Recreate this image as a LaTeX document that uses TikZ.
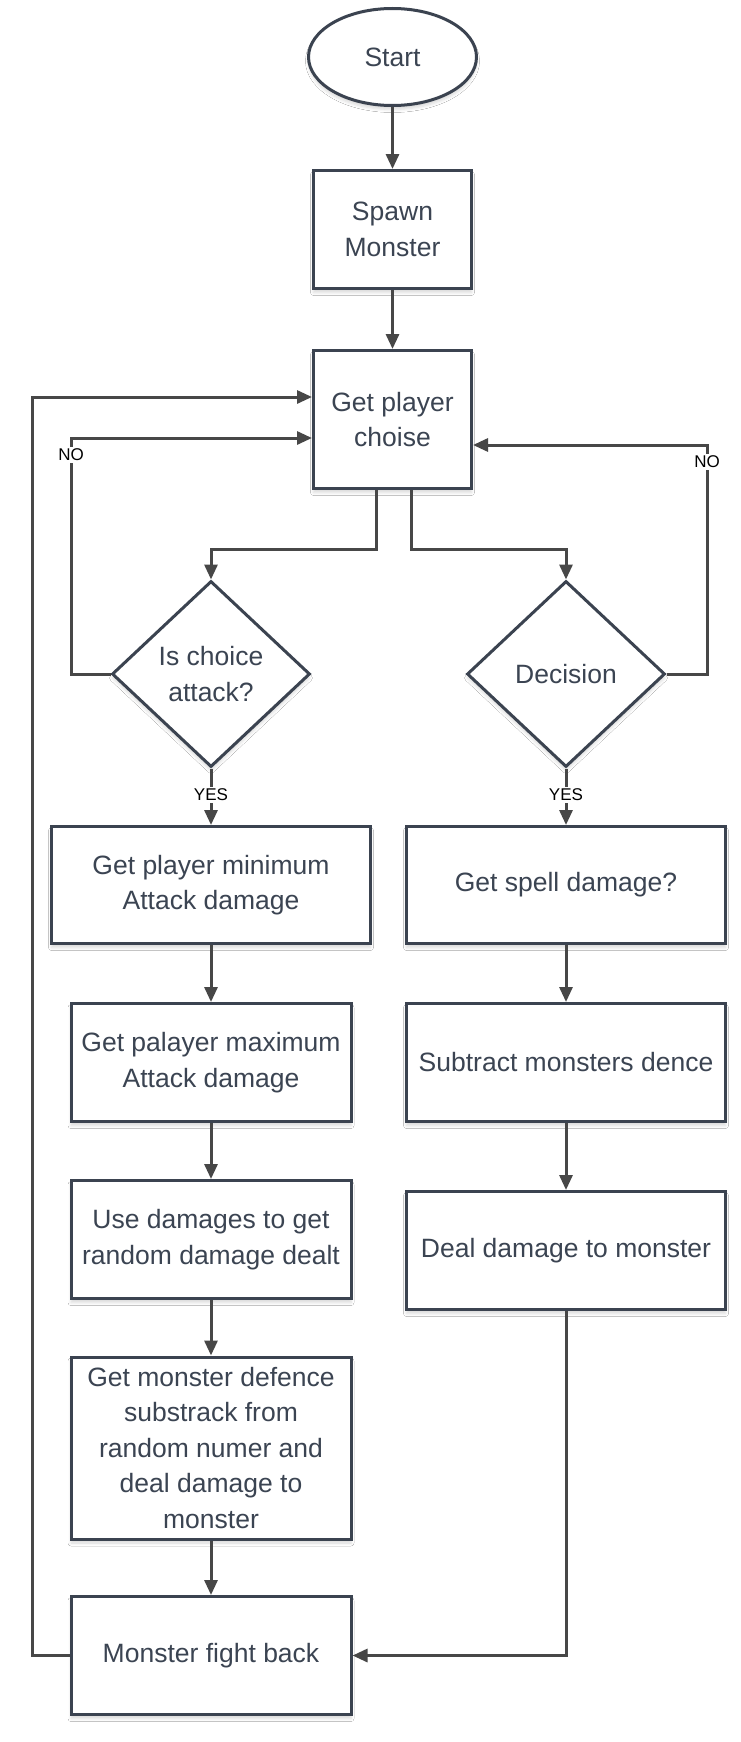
\documentclass[tikz,border=0pt]{standalone}
\usepackage{fontspec}
\setmainfont{Liberation Sans}
\usetikzlibrary{shapes.geometric,arrows.meta,shadows.blur}
\definecolor{boxline}{HTML}{3B4350}
\definecolor{txt}{HTML}{3B4452}
\definecolor{conn}{HTML}{474747}
\tikzset{
  x=1pt,y=-1pt,
  shad/.style={blur shadow={shadow xshift=0pt,shadow yshift=-4pt,shadow blur radius=3pt,shadow opacity=15}},
  procbox/.style={draw=boxline,line width=3pt,fill=white,rectangle,inner sep=0pt,align=center,text=txt,
    font=\fontsize{26.5}{35.5}\selectfont,shad},
  decbox/.style={draw=boxline,line width=3pt,fill=white,diamond,inner sep=0pt,align=center,text=txt,
    font=\fontsize{26.5}{35.5}\selectfont,shad},
  termbox/.style={draw=boxline,line width=3pt,fill=white,ellipse,inner sep=0pt,align=center,text=txt,
    font=\fontsize{26.5}{35.5}\selectfont,shad},
  arr/.style={draw=conn,line width=3pt,-{Triangle[length=15pt,width=13pt]}},
  lbl/.style={fill=white,text=black,inner sep=2pt,font=\fontsize{17}{19}\selectfont},
}
\begin{document}
\begin{tikzpicture}
\fill[white] (0,0) rectangle (740,1742);
\useasboundingbox (0,0) rectangle (740,1742);

\node[termbox,minimum width=168pt,minimum height=97pt] (start) at (392.5,57) {Start};
\node[procbox,minimum width=158pt,minimum height=118pt] (spawn) at (392.5,229.5) {Spawn\\Monster};
\node[procbox,minimum width=158pt,minimum height=138pt] (choise) at (392.5,419.5) {Get player\\choise};
\node[decbox,minimum width=198pt,minimum height=186pt] (d1) at (211,674) {Is choice\\attack?};
\node[decbox,minimum width=198pt,minimum height=186pt] (d2) at (566,674) {Decision};
\node[procbox,minimum width=319pt,minimum height=117pt] (min) at (211,885) {Get player minimum\\Attack damage};
\node[procbox,minimum width=319pt,minimum height=117pt] (spell) at (566,885) {Get spell damage?};
\node[procbox,minimum width=280pt,minimum height=118pt] (max) at (211,1062.5) {Get palayer maximum\\Attack damage};
\node[procbox,minimum width=319pt,minimum height=118pt] (sub) at (566,1062.5) {Subtract monsters dence};
\node[procbox,minimum width=280pt,minimum height=118pt] (use) at (211,1239.5) {Use damages to get\\random damage dealt};
\node[procbox,minimum width=319pt,minimum height=118pt] (deal) at (566,1250.5) {Deal damage to monster};
\node[procbox,minimum width=280pt,minimum height=182pt] (def) at (211,1448) {Get monster defence\\substrack from\\random numer and\\deal damage to\\monster};
\node[procbox,minimum width=280pt,minimum height=118pt] (fight) at (211,1655.5) {Monster fight back};

\coordinate (jl) at (376,549);
\coordinate (jr) at (411,549);
\coordinate (ll) at (71,438);
\coordinate (rl) at (707,445);
\coordinate (ol) at (32,397);

\draw[arr] (start) -- (spawn);
\draw[arr] (spawn) -- (choise);
\draw[arr] (jl |- choise.south) -- (jl) -| (d1.north);
\draw[arr] (jr |- choise.south) -- (jr) -| (d2.north);
\draw[arr] (d1.west) -| (ll) -- (ll -| choise.west);
\draw[arr] (d2.east) -| (rl) -- (rl -| choise.east);
\draw[arr] (fight.west) -| (ol) -- (ol -| choise.west);
\draw[arr] (d1.south) -- (min.north);
\draw[arr] (d2.south) -- (spell.north);
\draw[arr] (min) -- (max);
\draw[arr] (max) -- (use);
\draw[arr] (use) -- (def);
\draw[arr] (def) -- (fight);
\draw[arr] (spell) -- (sub);
\draw[arr] (sub) -- (deal);
\draw[arr] (deal.south) |- (fight.east);

\node[lbl] (no1) at (71,455) {NO};
\node[lbl] (no2) at (707,462) {NO};
\node[lbl] (yes1) at (211,795) {YES};
\node[lbl] (yes2) at (566,795) {YES};
\end{tikzpicture}
\end{document}
